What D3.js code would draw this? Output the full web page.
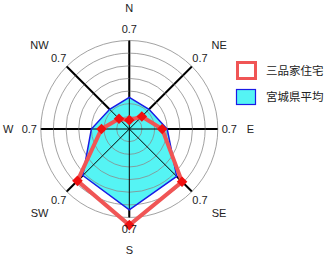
<!DOCTYPE html>
<html>
<head>
<meta charset="utf-8">
<script src="https://cdn.jsdelivr.net/npm/d3@7"></script>
<style>
  body { margin: 0; background: #fff; }
  svg { display: block; }
</style>
</head>
<body>
<svg id="chart" width="332" height="261"></svg>
<script>
// directions, clockwise from north
var dirs = ["N", "NE", "E", "SE", "S", "SW", "W", "NW"];
// 宮城県平均
var avgVals = [0.25, 0.22, 0.30, 0.53, 0.64, 0.52, 0.30, 0.22];
// 三品家住宅
var houseVals = [0.07, 0.14, 0.26, 0.59, 0.76, 0.58, 0.22, 0.115];
var rings = [0.1, 0.2, 0.3, 0.4, 0.5, 0.6, 0.7];
var seriesNames = ["三品家住宅", "宮城県平均"];

var svg = d3.select("#chart");
var cx = 129.3, cy = 129;
var r = d3.scaleLinear().domain([0, 0.7]).range([0, 88.5]);
var ang = d3.scalePoint().domain(dirs).range([0, 2 * Math.PI * 7 / 8]);

var g = svg.append("g").attr("transform", "translate(" + cx + "," + cy + ")");

function px(a, rad) { return Math.sin(a) * rad; }
function py(a, rad) { return -Math.cos(a) * rad; }

// thick axes under the fill
g.selectAll("line.axisThick")
  .data(dirs).enter().append("line")
  .attr("x1", 0).attr("y1", 0)
  .attr("x2", function(d) { return px(ang(d), r(0.7)); })
  .attr("y2", function(d) { return py(ang(d), r(0.7)); })
  .attr("stroke", "#000").attr("stroke-width", 2);

var radial = d3.lineRadial()
  .angle(function(d, i) { return ang(dirs[i]); })
  .radius(function(d) { return r(d); })
  .curve(d3.curveLinearClosed);

// average area fill
g.append("path")
  .attr("d", radial(avgVals))
  .attr("fill", "#55f4f4");

// grid circles
g.selectAll("circle.ring")
  .data(rings).enter().append("circle")
  .attr("r", function(d) { return r(d); })
  .attr("fill", "none")
  .attr("stroke", "#8a8a8a")
  .attr("stroke-width", 0.8);

// thin axes on top
g.selectAll("line.axisThin")
  .data(dirs).enter().append("line")
  .attr("x1", 0).attr("y1", 0)
  .attr("x2", function(d) { return px(ang(d), r(0.7)); })
  .attr("y2", function(d) { return py(ang(d), r(0.7)); })
  .attr("stroke", "#000").attr("stroke-width", 1);

// average outline
g.append("path")
  .attr("d", radial(avgVals))
  .attr("fill", "none")
  .attr("stroke", "#1a1ae6")
  .attr("stroke-width", 1.5);

// house line
g.append("path")
  .attr("d", radial(houseVals))
  .attr("fill", "none")
  .attr("stroke", "#f05555")
  .attr("stroke-width", 4)
  .attr("stroke-linejoin", "miter");

var sym = d3.symbol().type(d3.symbolSquare).size(56);
g.selectAll("path.mk")
  .data(houseVals).enter().append("path")
  .attr("d", sym)
  .attr("transform", function(d, i) {
    var a = ang(dirs[i]);
    return "translate(" + px(a, r(d)) + "," + py(a, r(d)) + ") rotate(45)";
  })
  .attr("fill", "#f01010");

// tick labels (0.7) and direction labels
var font = "'Liberation Sans', Arial, sans-serif";
g.selectAll("text.tick")
  .data(dirs).enter().append("text")
  .attr("x", function(d) { return px(ang(d), 100); })
  .attr("y", function(d) { return py(ang(d), 100); })
  .attr("dy", "0.35em")
  .attr("text-anchor", "middle")
  .attr("font-family", font).attr("font-size", 11)
  .attr("fill", "#222")
  .text("0.7");

g.selectAll("text.dir")
  .data(dirs).enter().append("text")
  .attr("x", function(d) { return px(ang(d), d.length > 1 ? 127 : 121); })
  .attr("y", function(d) { return py(ang(d), d.length > 1 ? 119 : 121); })
  .attr("dy", "0.35em")
  .attr("text-anchor", "middle")
  .attr("font-family", font).attr("font-size", 11)
  .attr("fill", "#222")
  .text(function(d) { return d; });

// legend
var leg = svg.append("g");
leg.append("rect")
  .attr("x", 237.5).attr("y", 62.5).attr("width", 18).attr("height", 16)
  .attr("fill", "#fff").attr("stroke", "#f05555").attr("stroke-width", 3);
leg.append("rect")
  .attr("x", 236.5).attr("y", 89.5).attr("width", 19).attr("height", 15)
  .attr("fill", "#55f4f4").attr("stroke", "#1a1ae6").attr("stroke-width", 1.2);
leg.selectAll("text")
  .data(seriesNames).enter().append("text")
  .attr("x", 266)
  .attr("y", function(d, i) { return 70.5 + i * 26.5; })
  .attr("dy", "0.35em")
  .attr("font-family", "'Noto Sans CJK JP', sans-serif")
  .attr("font-size", 11.5)
  .attr("fill", "#222")
  .text(function(d) { return d; });
</script>
</body>
</html>
